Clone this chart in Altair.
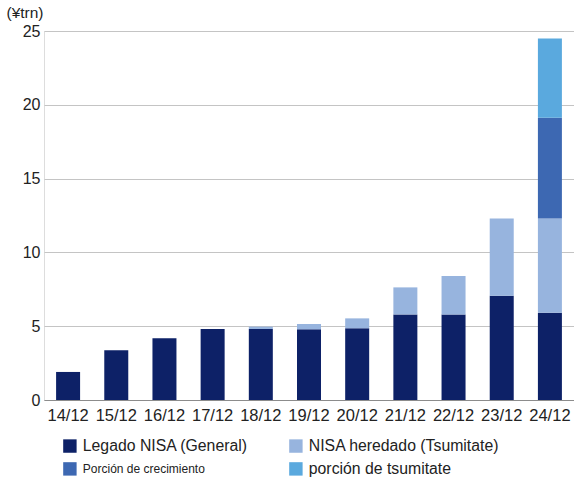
import altair as alt
import pandas as pd

# Year-end balances of NISA accounts (trillion yen)
periods = ["14/12", "15/12", "16/12", "17/12", "18/12", "19/12",
           "20/12", "21/12", "22/12", "23/12", "24/12"]
legado_general = [1.9, 3.37, 4.18, 4.81, 4.81, 4.79, 4.86, 5.8, 5.8, 7.07, 5.91]
heredado_tsumitate = [0, 0, 0, 0, 0.16, 0.36, 0.67, 1.83, 2.6, 5.23, 6.39]
porcion_crecimiento = [0, 0, 0, 0, 0, 0, 0, 0, 0, 0, 6.83]
porcion_tsumitate = [0, 0, 0, 0, 0, 0, 0, 0, 0, 0, 5.37]

series_names = ["Legado NISA (General)", "NISA heredado (Tsumitate)",
                "Porción de crecimiento", "porción de tsumitate"]
series_values = [legado_general, heredado_tsumitate,
                 porcion_crecimiento, porcion_tsumitate]
series_colors = ["#0d2167", "#97b4de", "#3d68b2", "#5aa9de"]

rows = []
for order, (name, vals) in enumerate(zip(series_names, series_values)):
    for p, v in zip(periods, vals):
        rows.append({"period": p, "series": name, "value": v, "order": order})
df = pd.DataFrame(rows)

font = "Liberation Sans"

chart = alt.Chart(df).mark_bar(size=24).encode(
    x=alt.X("period:N", sort=periods, title=None,
            scale=alt.Scale(paddingInner=0.5, paddingOuter=0.25),
            axis=alt.Axis(labelAngle=0, ticks=False, domainColor="#8c8c8c",
                          labelFontSize=16.5, labelColor="#222", labelPadding=7,
                          labelFont=font)),
    y=alt.Y("value:Q", stack="zero", title="(¥trn)",
            scale=alt.Scale(domain=[0, 25], nice=False),
            axis=alt.Axis(values=[0, 5, 10, 15, 20, 25], ticks=False, domain=False,
                          gridColor="#c4c4c4", labelFontSize=16, labelColor="#222",
                          labelPadding=4, labelFont=font,
                          titleAngle=0, titleX=-38, titleY=-19, titleAlign="left",
                          titleBaseline="middle", titleFontSize=15.5,
                          titleFontWeight="normal", titleColor="#222", titleFont=font)),
    color=alt.Color("series:N", sort=series_names, title=None,
                    scale=alt.Scale(domain=series_names, range=series_colors),
                    legend=alt.Legend(orient="none", legendX=18, legendY=407,
                                      direction="horizontal",
                                      columns=2, columnPadding=40, rowPadding=6,
                                      symbolType="square", symbolSize=180,
                                      symbolStrokeWidth=0, symbolOpacity=1,
                                      labelFont=font, labelColor="#222",
                                      labelLimit=400,
                                      labelFontSize=alt.ExprRef(
                                          "datum.label == 'Porción de crecimiento' ? 12 : 15.8"),
                                      labelOffset=5)),
    order=alt.Order("order:Q"),
).properties(
    width=530, height=369,
    autosize=alt.AutoSizeParams(type="none"),
    padding={"left": 44, "top": 31, "right": 0, "bottom": 83},
).configure_view(stroke=None).configure(background="white")

chart.save("out.html", embed_options={"renderer": "svg", "actions": False})
